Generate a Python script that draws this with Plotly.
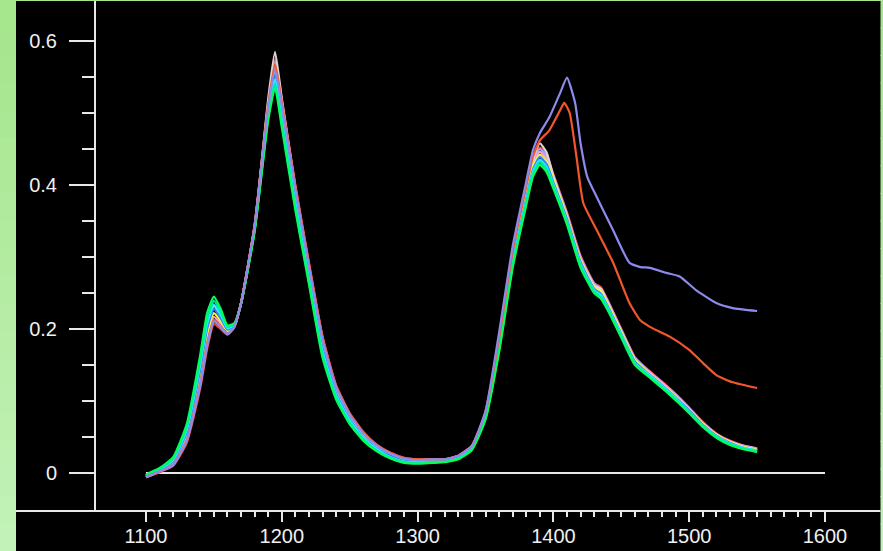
import plotly.graph_objects as go

# ---------------- data ----------------
wl = [1100, 1110, 1120, 1130, 1140, 1145, 1150, 1155, 1160, 1165, 1170, 1180, 1190, 1195,
      1200, 1210, 1220, 1230, 1240, 1250, 1260, 1270, 1280, 1290, 1300, 1310, 1320, 1330,
      1340, 1350, 1360, 1370, 1380, 1385, 1390, 1395, 1400, 1410, 1420, 1430, 1435, 1440,
      1450, 1460, 1470, 1480, 1490, 1500, 1510, 1520, 1530, 1540, 1550]

s_green = [-0.002, 0.007, 0.022, 0.068, 0.165, 0.222, 0.245, 0.228, 0.205, 0.208, 0.235, 0.335, 0.490, 0.535,
           0.480, 0.365, 0.262, 0.160, 0.102, 0.068, 0.045, 0.030, 0.020, 0.014, 0.013, 0.014, 0.015, 0.019,
           0.032, 0.074, 0.168, 0.285, 0.372, 0.412, 0.428, 0.418, 0.395, 0.345, 0.285, 0.250, 0.242, 0.226,
           0.188, 0.150, 0.134, 0.118, 0.101, 0.083, 0.064, 0.049, 0.039, 0.033, 0.029]
s_teal = [-0.003, 0.006, 0.020, 0.064, 0.158, 0.214, 0.239, 0.224, 0.203, 0.207, 0.235, 0.337, 0.494, 0.541,
          0.486, 0.370, 0.266, 0.164, 0.105, 0.070, 0.047, 0.031, 0.021, 0.015, 0.014, 0.015, 0.016, 0.020,
          0.033, 0.076, 0.171, 0.288, 0.375, 0.415, 0.432, 0.422, 0.398, 0.348, 0.288, 0.252, 0.244, 0.228,
          0.190, 0.152, 0.135, 0.119, 0.102, 0.084, 0.065, 0.050, 0.040, 0.034, 0.030]
s_cyan = [-0.003, 0.005, 0.018, 0.060, 0.151, 0.207, 0.234, 0.220, 0.201, 0.206, 0.235, 0.338, 0.498, 0.547,
          0.492, 0.376, 0.271, 0.169, 0.108, 0.073, 0.049, 0.033, 0.022, 0.016, 0.015, 0.016, 0.016, 0.021,
          0.034, 0.077, 0.173, 0.291, 0.378, 0.419, 0.435, 0.425, 0.401, 0.350, 0.290, 0.254, 0.247, 0.230,
          0.192, 0.153, 0.137, 0.121, 0.104, 0.085, 0.066, 0.051, 0.041, 0.035, 0.031]
s_blue = [-0.004, 0.004, 0.017, 0.056, 0.144, 0.200, 0.228, 0.215, 0.199, 0.205, 0.235, 0.340, 0.501, 0.553,
          0.498, 0.381, 0.276, 0.174, 0.111, 0.075, 0.050, 0.034, 0.024, 0.017, 0.016, 0.016, 0.017, 0.021,
          0.035, 0.079, 0.176, 0.294, 0.381, 0.422, 0.439, 0.429, 0.404, 0.353, 0.293, 0.256, 0.249, 0.232,
          0.193, 0.155, 0.138, 0.122, 0.105, 0.087, 0.067, 0.052, 0.042, 0.035, 0.031]
s_yellow = [-0.004, 0.003, 0.015, 0.052, 0.137, 0.192, 0.222, 0.211, 0.197, 0.204, 0.236, 0.341, 0.505, 0.559,
            0.504, 0.386, 0.280, 0.178, 0.114, 0.077, 0.052, 0.035, 0.025, 0.018, 0.017, 0.017, 0.017, 0.022,
            0.036, 0.080, 0.178, 0.297, 0.384, 0.426, 0.442, 0.432, 0.407, 0.355, 0.295, 0.258, 0.252, 0.234,
            0.195, 0.157, 0.139, 0.123, 0.106, 0.088, 0.068, 0.053, 0.043, 0.036, 0.032]
s_pink = [-0.005, 0.003, 0.013, 0.049, 0.130, 0.185, 0.217, 0.207, 0.195, 0.204, 0.236, 0.343, 0.509, 0.565,
          0.510, 0.391, 0.285, 0.183, 0.117, 0.079, 0.054, 0.037, 0.026, 0.019, 0.018, 0.018, 0.018, 0.023,
          0.037, 0.082, 0.181, 0.300, 0.387, 0.429, 0.446, 0.436, 0.410, 0.358, 0.298, 0.261, 0.254, 0.237,
          0.197, 0.158, 0.141, 0.125, 0.108, 0.089, 0.069, 0.054, 0.044, 0.037, 0.033]
s_lavender = [-0.006, 0.002, 0.011, 0.045, 0.123, 0.177, 0.211, 0.203, 0.193, 0.203, 0.236, 0.344, 0.513, 0.571,
              0.516, 0.397, 0.289, 0.187, 0.120, 0.082, 0.056, 0.038, 0.027, 0.020, 0.018, 0.019, 0.019, 0.024,
              0.037, 0.083, 0.183, 0.303, 0.390, 0.433, 0.450, 0.440, 0.413, 0.360, 0.300, 0.263, 0.256, 0.239,
              0.199, 0.160, 0.142, 0.126, 0.109, 0.090, 0.070, 0.054, 0.044, 0.038, 0.034]
s_red = [-0.006, 0.001, 0.010, 0.042, 0.118, 0.172, 0.207, 0.200, 0.192, 0.202, 0.236, 0.345, 0.515, 0.575,
         0.520, 0.400, 0.292, 0.190, 0.122, 0.083, 0.057, 0.039, 0.028, 0.021, 0.019, 0.019, 0.019, 0.024,
         0.038, 0.084, 0.185, 0.305, 0.392, 0.435, 0.452, 0.442, 0.415, 0.362, 0.302, 0.264, 0.258, 0.240,
         0.200, 0.161, 0.143, 0.127, 0.110, 0.091, 0.071, 0.055, 0.045, 0.038, 0.034]
s_gray = [-0.004, 0.003, 0.015, 0.052, 0.137, 0.200, 0.232, 0.218, 0.197, 0.204, 0.236, 0.341, 0.520, 0.585,
          0.520, 0.395, 0.280, 0.178, 0.114, 0.077, 0.052, 0.035, 0.025, 0.018, 0.017, 0.017, 0.017, 0.022,
          0.036, 0.080, 0.178, 0.297, 0.384, 0.435, 0.458, 0.445, 0.412, 0.355, 0.295, 0.260, 0.256, 0.236,
          0.196, 0.157, 0.139, 0.123, 0.106, 0.088, 0.068, 0.053, 0.043, 0.036, 0.032]

cluster = [s_red, s_lavender, s_pink, s_gray, s_yellow, s_blue, s_cyan, s_teal, s_green]
cluster_colors = ["#ff3a2a", "#a4a4ff", "#ff9fd0", "#d8d8d8", "#f0ff3a", "#3a80ff", "#22eeff",
                  "#00e6b0", "#00ff5a"]

wl_purple = [1100, 1110, 1120, 1130, 1140, 1145, 1150, 1155, 1160, 1165, 1170, 1180, 1190, 1195,
             1200, 1210, 1220, 1230, 1240, 1250, 1260, 1270, 1280, 1290, 1300, 1310, 1320, 1330,
             1340, 1350, 1360, 1370, 1380, 1385, 1390, 1397, 1405, 1410, 1416, 1420, 1425, 1432,
             1444, 1456, 1464, 1471, 1483, 1493, 1505, 1520, 1532, 1550]
v_purple = [-0.006, 0.002, 0.011, 0.045, 0.123, 0.177, 0.211, 0.203, 0.193, 0.203, 0.236, 0.344, 0.508, 0.560,
            0.510, 0.394, 0.287, 0.185, 0.119, 0.081, 0.055, 0.038, 0.027, 0.020, 0.018, 0.019, 0.019, 0.024,
            0.038, 0.086, 0.195, 0.315, 0.405, 0.449, 0.472, 0.494, 0.528, 0.549, 0.514, 0.458, 0.411, 0.383,
            0.337, 0.292, 0.286, 0.285, 0.278, 0.273, 0.254, 0.236, 0.229, 0.225]

wl_orange = [1100, 1110, 1120, 1130, 1140, 1145, 1150, 1155, 1160, 1165, 1170, 1180, 1190, 1195,
             1200, 1210, 1220, 1230, 1240, 1250, 1260, 1270, 1280, 1290, 1300, 1310, 1320, 1330,
             1340, 1350, 1360, 1370, 1380, 1385, 1390, 1397, 1405, 1408, 1412, 1417, 1422, 1432,
             1444, 1456, 1464, 1471, 1486, 1500, 1510, 1520, 1532, 1550]
v_orange = [-0.005, 0.002, 0.012, 0.046, 0.125, 0.180, 0.213, 0.204, 0.194, 0.203, 0.236, 0.344, 0.512, 0.568,
            0.516, 0.398, 0.291, 0.189, 0.121, 0.083, 0.057, 0.039, 0.028, 0.021, 0.019, 0.019, 0.019, 0.024,
            0.038, 0.085, 0.188, 0.308, 0.398, 0.440, 0.462, 0.476, 0.504, 0.514, 0.500, 0.439, 0.375, 0.337,
            0.292, 0.236, 0.212, 0.203, 0.189, 0.171, 0.153, 0.136, 0.126, 0.118]

x_ticks = [1100, 1200, 1300, 1400, 1500, 1600]
x_minor = [v for v in range(1110, 1600, 10) if v % 100 != 0]
y_ticks = [0, 0.2, 0.4, 0.6]
y_tick_text = ["0", "0.2", "0.4", "0.6"]
y_minor = [0.05, 0.1, 0.15, 0.25, 0.3, 0.35, 0.45, 0.5, 0.55]

# ---------------- figure ----------------
W, H = 883, 551
L, R, T, B = 95, 3, 1, 40
PW, PH = W - L - R, H - T - B


def px(xp):
    return (xp - L) / PW


def py(yp):
    return 1 - (yp - T) / PH


fig = go.Figure()
for vals, col in zip(cluster, cluster_colors):
    fig.add_trace(go.Scatter(x=wl, y=vals, mode="lines",
                             line=dict(color=col, width=2.2, shape="spline", smoothing=0.5),
                             hoverinfo="skip", showlegend=False))
fig.add_trace(go.Scatter(x=wl_orange, y=v_orange, mode="lines",
                         line=dict(color="#f2572c", width=2.2, shape="spline", smoothing=0.5),
                         hoverinfo="skip", showlegend=False))
fig.add_trace(go.Scatter(x=wl_purple, y=v_purple, mode="lines",
                         line=dict(color="#8c8aec", width=2.2, shape="spline", smoothing=0.5),
                         hoverinfo="skip", showlegend=False))

shapes = []
# black panel
shapes.append(dict(type="rect", xref="paper", yref="paper", x0=px(16), x1=px(880.5), y0=py(1), y1=py(H + 2),
                   fillcolor="black", line=dict(width=0), layer="below"))
# green gradient strips
n = 20
for i in range(n):
    t = i / (n - 1)
    r = int(166 + (194 - 166) * t)
    g = int(230 + (242 - 230) * t)
    b = int(140 + (184 - 140) * t)
    col = f"rgb({r},{g},{b})"
    y0p = i * H / n
    y1p = (i + 1) * H / n + 1
    shapes.append(dict(type="rect", xref="paper", yref="paper", x0=px(-2), x1=px(16), y0=py(y0p), y1=py(y1p),
                       fillcolor=col, line=dict(width=0), layer="above"))
    shapes.append(dict(type="rect", xref="paper", yref="paper", x0=px(880.5), x1=px(W + 2), y0=py(y0p), y1=py(y1p),
                       fillcolor=col, line=dict(width=0), layer="above"))
shapes.append(dict(type="rect", xref="paper", yref="paper", x0=px(-2), x1=px(W + 2), y0=py(-2), y1=py(1),
                   fillcolor="rgb(166,230,140)", line=dict(width=0), layer="above"))
# axis lines
shapes.append(dict(type="line", xref="paper", yref="paper", x0=px(16), x1=px(880.5), y0=py(511), y1=py(511),
                   line=dict(color="#e8e8e8", width=2), layer="above"))
shapes.append(dict(type="line", xref="paper", yref="paper", x0=px(95), x1=px(95), y0=py(1), y1=py(511),
                   line=dict(color="#e8e8e8", width=2), layer="above"))
# zero line
shapes.append(dict(type="line", xref="x", yref="y", x0=1100, x1=1600, y0=0, y1=0,
                   line=dict(color="#e8e8e8", width=2), layer="below"))

font = dict(family="Liberation Sans, Arial, sans-serif", size=20, color="#f0f0f0")

fig.update_layout(
    width=W, height=H,
    margin=dict(l=L, r=R, t=T, b=B, pad=0),
    paper_bgcolor="black", plot_bgcolor="black",
    showlegend=False,
    shapes=shapes,
    font=font,
    xaxis=dict(range=[1062.45, 1640.5], showgrid=False, zeroline=False, showline=False,
               tickmode="array", tickvals=x_ticks, ticktext=[str(v) for v in x_ticks],
               ticks="outside", ticklen=10, tickwidth=2, tickcolor="#e8e8e8",
               tickfont=font, ticklabelstandoff=-3, automargin=False,
               minor=dict(tickmode="array", tickvals=x_minor, ticks="outside", ticklen=5,
                          tickwidth=2, tickcolor="#e8e8e8", showgrid=False),
               fixedrange=True),
    yaxis=dict(range=[-0.05278, 0.65556], showgrid=False, zeroline=False, showline=False,
               tickmode="array", tickvals=y_ticks, ticktext=y_tick_text,
               ticks="outside", ticklen=25, tickwidth=2, tickcolor="#e8e8e8",
               tickfont=font, ticklabelstandoff=8, automargin=False,
               minor=dict(tickmode="array", tickvals=y_minor, ticks="outside", ticklen=12,
                          tickwidth=2, tickcolor="#e8e8e8", showgrid=False),
               fixedrange=True),
)

fig.write_html("out.html", config={"displayModeBar": False},
               post_script="document.body.style.margin='0';document.body.style.background='black';")
